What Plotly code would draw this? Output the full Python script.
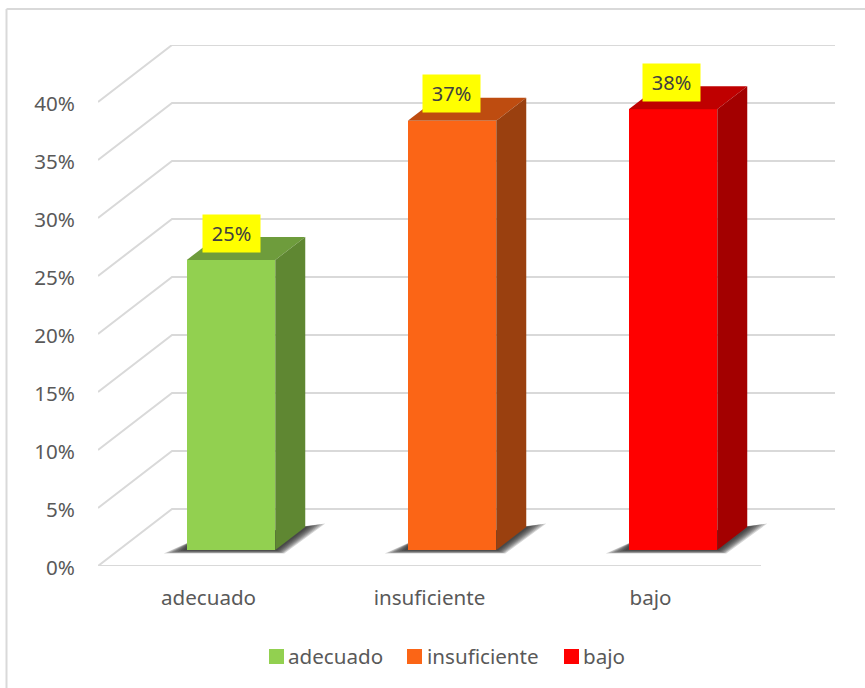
import plotly.graph_objects as go

categories = ["adecuado", "insuficiente", "bajo"]
values = [25, 37, 38]
tick_values = [0, 5, 10, 15, 20, 25, 30, 35, 40]
tick_labels = ["0%", "5%", "10%", "15%", "20%", "25%", "30%", "35%", "40%"]
front_colors = ["#92D050", "#FB6516", "#FF0000"]
top_colors = ["#6E9C3C", "#BE4C10", "#BF0000"]
side_colors = ["#5F8732", "#9A400F", "#A30000"]

# plot geometry (pixels)
L, R, T, B = 98, 837, 45, 566
W, H = 865, 688
PX_X = 221.0            # pixels per category
PX_Y = 11.6             # pixels per 1 %
x0 = -0.5
x1 = x0 + (R - L) / PX_X
y1 = (B - T) / PX_Y
px = lambda p: p / PX_X
py = lambda p: p / PX_Y
paper_x = lambda p: (p - L) / (R - L)
paper_y = lambda p: (B - p) / (B - T)

DEPTH_X, DEPTH_Y = px(74), py(57)     # wall depth
BAR_DX, BAR_DY = px(30), py(23)       # bar depth
BAR_W = px(88.5)
SHIFT = px(22.5)
BASE = py(16)
GRID = "#D9D9D9"
FONT = "Noto Sans"
LEGEND_SWATCH_X = [269, 407, 564]
LEGEND_TEXT_X = [288, 427, 583]
LABEL_XSHIFT = [0, -1, -2]

fig = go.Figure()


def poly(xs, ys, color, **kw):
    fig.add_trace(go.Scatter(x=xs, y=ys, mode="lines", fill="toself", fillcolor=color,
                             line=dict(width=0, color=color), hoverinfo="skip",
                             showlegend=False, **kw))


# wall and floor lines (lower layer)
for t in tick_values:
    fig.add_trace(go.Scatter(
        x=[x0, x0 + DEPTH_X, 2.5 + DEPTH_X], y=[t, t + DEPTH_Y, t + DEPTH_Y],
        mode="lines", line=dict(color=GRID, width=2), hoverinfo="skip", showlegend=False))
fig.add_trace(go.Scatter(x=[x0, 2.5], y=[0, 0], mode="lines",
                         line=dict(color=GRID, width=2), hoverinfo="skip", showlegend=False))

# soft floor shadows (lower layer)
for i in range(3):
    xl = i + SHIFT - BAR_W / 2
    xr = i + SHIFT + BAR_W / 2
    for k in [1.0, 0.88, 0.76, 0.64, 0.52, 0.4, 0.28, 0.16]:
        poly([xl - px(23 * k), xl + px(5), xr + BAR_DX + px(20 * k), xr + px(9 * k), xl - px(23 * k)],
             [BASE - py(3.5 * k), BASE + py(9), BASE + BAR_DY + py(3.5 * k), BASE - py(3.5 * k), BASE - py(3.5 * k)],
             "rgba(30,30,30,0.19)")

# bars on an overlaying pair of axes so they sit above lines and shadows
for i, (c, v) in enumerate(zip(categories, values)):
    fig.add_trace(go.Bar(x=[i + SHIFT], y=[v], base=BASE, width=BAR_W, name=c, xaxis="x2", yaxis="y2",
                         showlegend=False,
                         marker=dict(color=front_colors[i], line=dict(width=0)),
                         hovertemplate=f"{c}: {v}%<extra></extra>"))
    xl = i + SHIFT - BAR_W / 2
    xr = i + SHIFT + BAR_W / 2
    top = BASE + v
    poly([xl, xr, xr + BAR_DX, xl + BAR_DX, xl], [top, top, top + BAR_DY, top + BAR_DY, top],
         top_colors[i], xaxis="x2", yaxis="y2")
    poly([xr, xr + BAR_DX, xr + BAR_DX, xr, xr], [BASE, BASE + BAR_DY, top + BAR_DY, top, BASE],
         side_colors[i], xaxis="x2", yaxis="y2")
    fig.add_annotation(x=i + SHIFT, y=top, yshift=27, xshift=LABEL_XSHIFT[i], text=f"{v}%", showarrow=False,
                       width=57, height=37, bgcolor="#FFFF00", borderpad=0,
                       xanchor="center", yanchor="middle", align="center", valign="middle",
                       font=dict(family=FONT, size=20, color="#404040"))
    # legend entry
    fig.add_shape(type="rect", xref="paper", yref="paper",
                  x0=paper_x(LEGEND_SWATCH_X[i]), x1=paper_x(LEGEND_SWATCH_X[i] + 15),
                  y0=paper_y(664), y1=paper_y(649),
                  fillcolor=front_colors[i], line=dict(width=0))
    fig.add_annotation(xref="paper", yref="paper", x=paper_x(LEGEND_TEXT_X[i]), y=paper_y(656),
                       text=c, showarrow=False, xanchor="left", yanchor="middle", borderpad=0,
                       xshift=-1, font=dict(family=FONT, size=20.6, color="#595959"))

# chart border (top and left edges are what is visible)
bx = paper_x(6.5)
by = paper_y(9)
fig.add_shape(type="line", xref="paper", yref="paper", x0=bx, x1=paper_x(W), y0=by, y1=by,
              line=dict(color=GRID, width=2))
fig.add_shape(type="line", xref="paper", yref="paper", x0=bx, x1=bx, y0=by, y1=paper_y(H),
              line=dict(color=GRID, width=2))

fig.update_layout(
    width=W, height=H, autosize=False,
    margin=dict(l=L, r=W - R, t=T, b=H - B, pad=0),
    paper_bgcolor="white", plot_bgcolor="white",
    barmode="overlay", bargap=0, showlegend=False,
    font=dict(family=FONT, size=20.6, color="#595959"),
    xaxis=dict(range=[x0, x1], tickmode="array", tickvals=[0, 1, 2], ticktext=categories,
               showgrid=False, zeroline=False, showline=False, ticks="", ticklabelstandoff=17,
               fixedrange=True),
    yaxis=dict(range=[0, y1], tickmode="array", tickvals=tick_values, ticktext=tick_labels,
               showgrid=False, zeroline=False, showline=False, ticks="", ticklabelstandoff=22,
               ticklabelshift=2, fixedrange=True),
    xaxis2=dict(range=[x0, x1], overlaying="x", visible=False, fixedrange=True),
    yaxis2=dict(range=[0, y1], overlaying="y", visible=False, fixedrange=True),
)

fig.write_html("out.html", config={"displayModeBar": False},
               post_script="document.body.style.margin='0';document.documentElement.style.overflow='hidden';")
